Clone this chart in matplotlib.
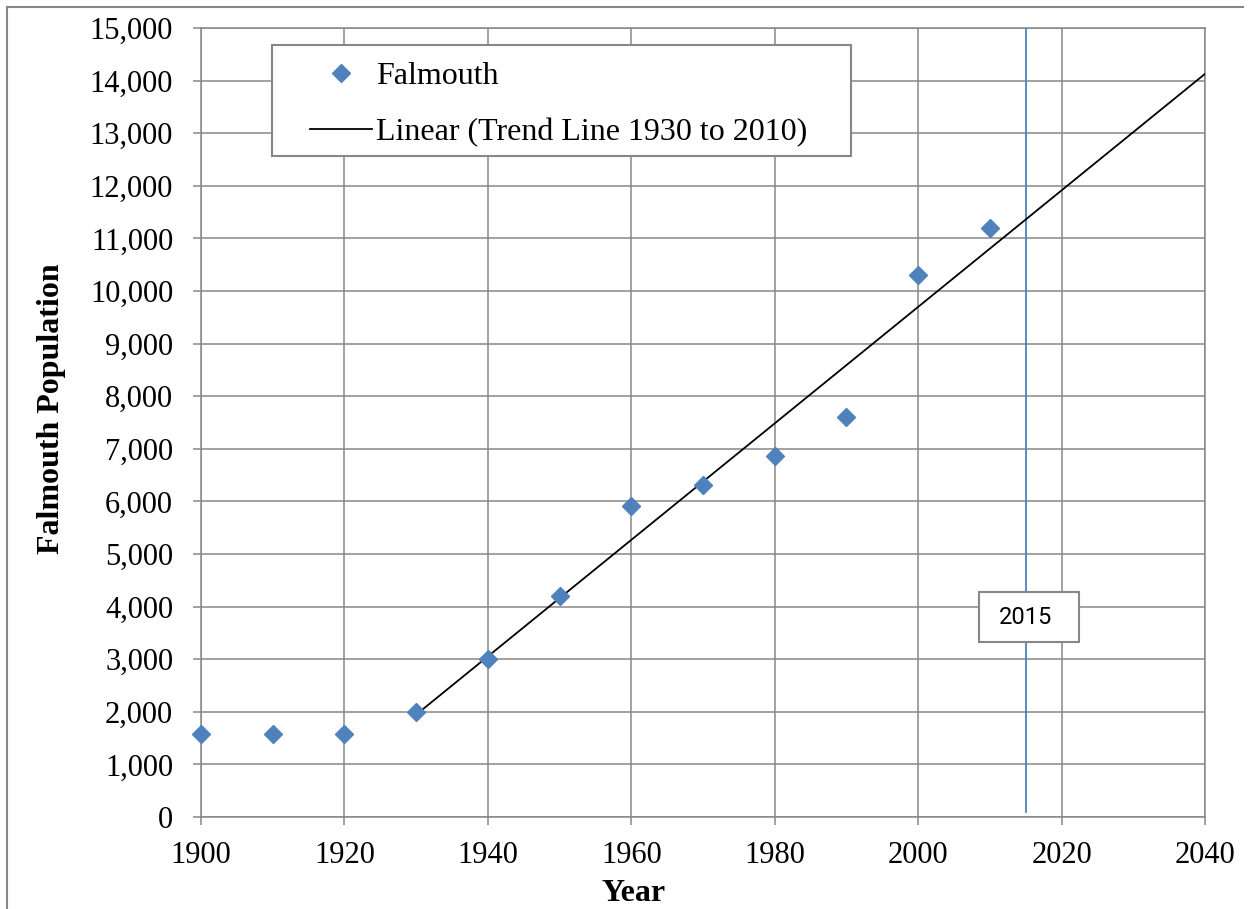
import numpy as np
from matplotlib import pyplot as plt
from matplotlib.lines import Line2D
from matplotlib.patches import Rectangle
from matplotlib.ticker import FuncFormatter

plt.rcParams['font.family'] = ['Liberation Serif', 'DejaVu Serif']

# data
years = [1900, 1910, 1920, 1930, 1940, 1950, 1960, 1970, 1980, 1990, 2000, 2010]
population = [1570, 1570, 1570, 2000, 3000, 4200, 5910, 6310, 6860, 7600, 10300, 11200]
trend_start, trend_end = 1930, 2040
marker_year = 2015

blue = '#4F81BD'
gray = '#878787'

fig = plt.figure(figsize=(12.53, 9.09), dpi=100)
ax = fig.add_axes([0.1604, 0.1012, 0.8013, 0.868])

# trend line fitted on 1930-2010
yrs = np.array(years)
pop = np.array(population)
sel = yrs >= 1930
fp = np.polyfit(yrs[sel], pop[sel], 1)
f1 = np.poly1d(fp)
tx = np.array([trend_start, trend_end])

ax.plot(years, population, ls='none', marker='D', ms=9.5, color=blue, label='Falmouth',
        zorder=4, clip_on=False)
ax.plot(tx, f1(tx), color='black', lw=1.3, label='Linear (Trend Line 1930 to 2010)', zorder=3)
ax.axvline(marker_year, ymin=0.006, ymax=1, color=blue, lw=1.3, zorder=2)

# "2015" box
ax.add_patch(Rectangle((2008.5, 3327), 13.9, 950, facecolor='white', edgecolor=gray, lw=1.5, zorder=5))
ax.text(marker_year, 3800, '2015', ha='center', va='center', fontsize=17,
        family=['Roboto', 'DejaVu Sans'], zorder=6)

ax.set_xlim(1900, 2040)
ax.set_ylim(0, 15000)
ax.set_xticks(range(1900, 2041, 20))
ax.set_yticks(range(0, 15001, 1000))
ax.yaxis.set_major_formatter(FuncFormatter(lambda v, p: f'{int(v):,}'))
ax.grid(True, color=gray, lw=1.1, zorder=0)
ax.set_axisbelow(True)

for s in ax.spines.values():
    s.set_color(gray)
    s.set_linewidth(1.1)
ax.tick_params(axis='both', labelsize=22, color=gray, length=6, width=1.1)
ax.tick_params(axis='y', pad=14)
ax.tick_params(axis='x', pad=11)

ax.set_xlabel('Year', fontsize=23, fontweight='bold')
ax.set_ylabel('Falmouth Population', fontsize=23, fontweight='bold')
ax.xaxis.set_label_coords(0.431, -0.078)
ax.yaxis.set_label_coords(-0.134, 0.517)

# legend frame drawn separately, legend itself without frame
ax.add_patch(Rectangle((0.0707, 0.8378), 0.5767, 0.1407, transform=ax.transAxes,
                       facecolor='white', edgecolor=gray, lw=1.5, zorder=5))
leg = ax.legend(loc='upper left', bbox_to_anchor=(0.1086, 0.957), fontsize=23, frameon=False,
                handlelength=1.95, handletextpad=0.12, borderpad=0, borderaxespad=0,
                labelspacing=0.82)
leg.set_zorder(6)

# outer chart border (top and left only visible)
fig.add_artist(Line2D([7 / 1253, 1243 / 1253], [1 - 7 / 909, 1 - 7 / 909], color=gray, lw=1.5))
fig.add_artist(Line2D([7 / 1253, 7 / 1253], [0, 1 - 7 / 909], color=gray, lw=1.5))

fig.savefig('out.png', dpi=100)
